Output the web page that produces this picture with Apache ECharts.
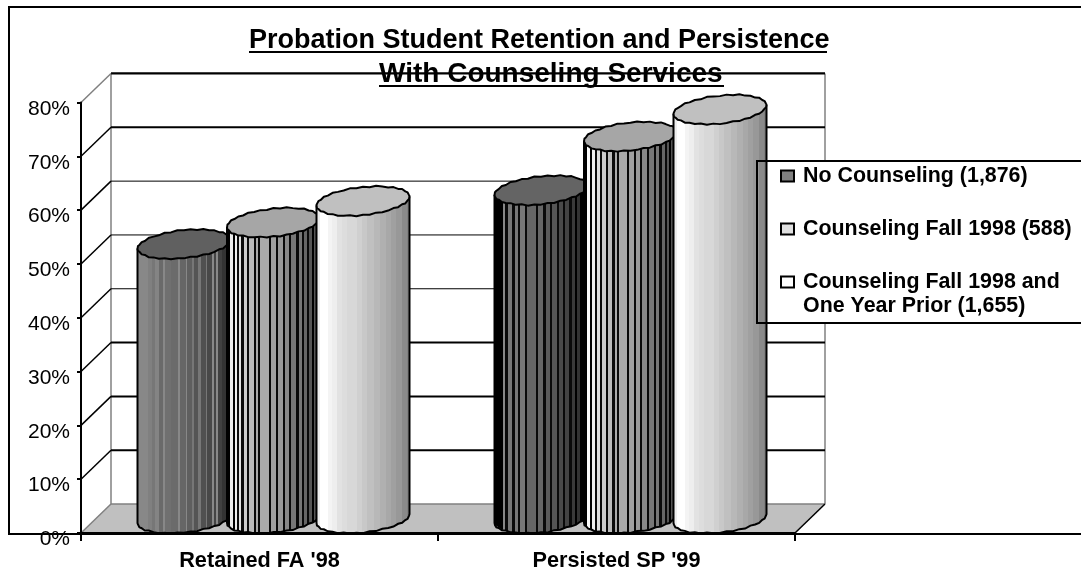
<!DOCTYPE html>
<html>
<head>
<meta charset="utf-8">
<style>html,body{margin:0;padding:0;background:#fff}#c{width:1081px;height:569px}</style>
<script src="https://cdn.jsdelivr.net/npm/echarts@6/dist/echarts.min.js"></script>
</head>
<body>
<div id="c"></div>
<script>
var categories = ["Retained FA '98", "Persisted SP '99"];
var seriesNames = ["No Counseling (1,876)", "Counseling Fall 1998 (588)", "Counseling Fall 1998 and One Year Prior (1,655)"];
var noCounseling = [51, 61];
var counselingFall = [55, 71];
var counselingFallPrior = [59, 76];
var yTicks = [0, 10, 20, 30, 40, 50, 60, 70, 80];
var titleLine1 = "Probation Student Retention and Persistence";
var titleLine2 = "With Counseling Services";

// style only
var gridWidths = {0: 0, 10: 2, 20: 2, 30: 2, 40: 1, 50: 1, 60: 1, 70: 2, 80: 2};
var legendColors = ['#808080', '#e0e0e0', '#ffffff'];
var capColors = [['#606060', '#646464'], ['#a6a6a6', '#a6a6a6'], ['#c0c0c0', '#c0c0c0']];
var whiteBands = [[9,238],[24,255],[13,244],[15,238],[15,226],[15,221],[30,216],[15,208],[15,200],[20,192],[18,184],[17,176],[15,168],[15,160],[17,152],[15,138],[8,128]];
var bands = [
  [
    [[30,136],[10,128],[7,119],[13,132],[10,106],[7,136],[16,112],[20,107],[5,136],[15,102],[4,136],[13,95],[5,119],[13,85],[7,119],[15,80],[3,119],[14,72],[4,136],[6,68],[6,136],[10,64],[14,51],[10,96]],
    [[21,0],[6,136],[6,10],[12,119],[6,10],[8,119],[6,10],[12,119],[6,10],[22,102],[6,10],[12,102],[6,10],[10,90],[6,10],[12,85],[6,10],[10,74],[6,10],[10,68],[6,10],[8,58],[6,0],[8,51],[6,0],[6,42],[6,0]]
  ],
  [
    [[9,0],[6,235],[6,0],[6,238],[6,10],[6,225],[6,10],[10,204],[6,10],[12,187],[6,10],[6,170],[6,10],[24,170],[6,10],[12,160],[6,10],[12,153],[6,10],[12,136],[6,10],[14,119],[6,10],[8,119],[6,10],[8,102],[6,10],[7,85],[6,0],[6,85],[6,0],[5,68]],
    [[9,0],[8,250],[6,0],[6,238],[6,10],[8,221],[6,10],[10,204],[6,10],[12,187],[6,10],[6,170],[6,10],[22,170],[6,10],[12,160],[6,10],[12,153],[6,10],[12,136],[6,10],[14,119],[6,10],[8,119],[6,10],[8,102],[6,10],[7,85],[6,0],[6,85],[5,0],[4,68]]
  ],
  [whiteBands, whiteBands]
];
// small fixed irregularity of the faceted outlines, in pixels
var wobble = [0.4, -0.5, 0.5, -0.2, 0.7, -0.5, 0.2, 0.6, -0.4, 0.5, -0.6, 0.3, -0.3, 0.6, -0.5, 0.4, -0.2, 0.7, -0.5, 0.4, -0.6, 0.2];

var DX = 30, DY = 29;             // depth of the 3D box
var SHIFT = 14;                   // cylinder axis offset into the depth
var SLOT = 89.5, HALF = 46.5;     // cylinder spacing, half width
var CAP_B = 14, CAP_TILT = 4.5;   // cap ellipse shape
var FACETS = 22;

function gray(v) { return 'rgb(' + v + ',' + v + ',' + v + ')'; }

function renderWalls(params, api) {
  var v = api.value(1);
  var band = api.size([1, 0])[0];
  var p = api.coord([0, v]);
  var x0 = p[0] - band / 2, x1 = x0 + band * 2, y = p[1];
  var kids = [];
  function line(a, b, c, d, color, w) {
    kids.push({type: 'line', shape: {x1: a, y1: b, x2: c, y2: d}, style: {stroke: color, lineWidth: w}, silent: true});
  }
  if (v === 0) {
    kids.push({type: 'polygon', shape: {points: [[x0, y], [x0 + DX, y - DY], [x1 + DX, y - DY], [x1, y]]}, style: {fill: '#c0c0c0'}, silent: true});
    var top = api.coord([0, 80])[1];
    line(x0 + DX, y - DY, x1 + DX, y - DY, '#808080', 1.5);
    line(x0 + DX, top - DY, x0 + DX, y - DY, '#808080', 1.5);
    line(x1 + DX, top - DY, x1 + DX, y - DY, '#808080', 1.5);
    line(x0 + DX, top - DY - 1, x1 + DX, top - DY - 1, '#808080', 1);
    line(x1, y, x1 + DX, y - DY, '#000', 1.5);
    line(x0, y, x0 + DX, y - DY, '#808080', 1.5);
  } else {
    line(x0 + DX, y - DY, x1 + DX, y - DY, '#000', gridWidths[v]);
    line(x0, y, x0 + DX, y - DY, v === 80 ? '#808080' : '#000', 1.5);
  }
  return {type: 'group', children: kids};
}

function makeCylinder(si) {
  return function (params, api) {
    var c = api.value(0), v = api.value(1);
    var top = api.coord([c, v]), bot = api.coord([c, 0]);
    var cx = top[0] + SHIFT + (si - 1) * SLOT;
    var cyT = top[1] - DY / 2, cyB = bot[1] - DY / 2;
    var a = HALF;
    function front(x, cy) {
      var u = Math.max(-1, Math.min(1, (x - cx) / a));
      return cy - CAP_TILT * u + CAP_B * Math.sqrt(1 - u * u);
    }
    var kids = [];
    var list = bands[si][c], sum = 0;
    list.forEach(function (b) { sum += b[0]; });
    var pos = cx - a;
    list.forEach(function (b) {
      var w = b[0] / sum * 2 * a;
      var xa = Math.round(pos), xb = Math.round(pos + w);
      if (xb > xa) {
        kids.push({type: 'polygon', silent: true,
          shape: {points: [[xa, front(xa, cyT)], [xb, front(xb, cyT)], [xb, front(xb, cyB)], [xa, front(xa, cyB)]]},
          style: {fill: gray(b[1])}});
      }
      pos += w;
    });
    var outline = [];
    var i, t;
    for (i = 0; i <= FACETS; i++) {
      t = Math.PI * (1 - i / FACETS);
      var ox = cx + a * Math.cos(t);
      var wy = (i === 0 || i === FACETS) ? 0 : wobble[(i + si * 3 + c * 5) % wobble.length];
      outline.push([ox, front(ox, cyB) + wy]);
    }
    var full = [[cx - a, front(cx - a, cyT)]].concat(outline).concat([[cx + a, front(cx + a, cyT)]]);
    kids.push({type: 'polyline', silent: true, shape: {points: full}, style: {stroke: '#000', lineWidth: 2, fill: 'none'}});
    var cap = [];
    for (i = 0; i < 2 * FACETS; i++) {
      t = Math.PI * i / FACETS;
      cap.push([cx + a * Math.cos(t), cyT - CAP_TILT * Math.cos(t) + CAP_B * Math.sin(t) + wobble[(i + si * 7 + c * 4) % wobble.length]]);
    }
    kids.push({type: 'polygon', silent: true, shape: {points: cap}, style: {fill: capColors[si][c], stroke: '#000', lineWidth: 2, lineJoin: 'round'}});
    return {type: 'group', children: kids};
  };
}

function cylinderSeries(si, values) {
  return {
    type: 'custom', name: seriesNames[si], z: 3, clip: false,
    coordinateSystem: 'cartesian2d',
    itemStyle: {color: legendColors[si]},
    encode: {x: 0, y: 1},
    renderItem: makeCylinder(si),
    data: values.map(function (val, i) { return [i, val]; })
  };
}

var titleBase = {fontFamily: 'Liberation Sans', fontWeight: 'bold', color: '#000'};
var option = {
  animation: false,
  backgroundColor: '#fff',
  textStyle: {fontFamily: 'Liberation Sans', color: '#000'},
  title: [
    {text: titleLine1, left: 244, top: 18, z: 7, textStyle: Object.assign({fontSize: 27, lineHeight: 35}, titleBase)},
    {text: titleLine2, left: 374, top: 52, z: 7, textStyle: Object.assign({fontSize: 28, lineHeight: 35}, titleBase)}
  ],
  grid: {left: 81, right: 286, top: 102.5, bottom: 36, containLabel: false, outerBoundsMode: 'none'},
  xAxis: {
    type: 'category', data: categories, z: 6,
    axisLine: {lineStyle: {color: '#000', width: 2}},
    axisTick: {show: true, length: 8, alignWithLabel: false, lineStyle: {color: '#000', width: 2}},
    axisLabel: {fontFamily: 'Liberation Sans', fontWeight: 'bold', fontSize: 21.7, color: '#000', margin: 17, interval: 0},
    splitLine: {show: false}
  },
  yAxis: {
    type: 'value', min: 0, max: 80, interval: 10, z: 6,
    axisLine: {show: true, lineStyle: {color: '#000', width: 2}},
    axisTick: {show: true, length: 4, lineStyle: {color: '#000', width: 2}},
    axisLabel: {formatter: '{value}%', fontFamily: 'Liberation Sans', fontSize: 21, color: '#000', margin: 11, verticalAlign: 'top', lineHeight: 13},
    splitLine: {show: false}
  },
  legend: {
    orient: 'vertical', left: 780, top: 140, z: 8, padding: 0, itemWidth: 13, itemHeight: 11, itemGap: -19,
    selectedMode: false, icon: 'rect', align: 'left',
    itemStyle: {borderColor: '#000', borderWidth: 2},
    data: seriesNames.map(function (n, i) { return {name: n, icon: 'rect', itemStyle: {color: legendColors[i], borderColor: '#000', borderWidth: 2}}; }),
    formatter: function (n) {
      if (n === seriesNames[2]) return '\nCounseling Fall 1998 and\nOne Year Prior (1,655)';
      return '\n' + n + '\n';
    },
    textStyle: {fontFamily: 'Liberation Sans', fontWeight: 'bold', fontSize: 21.4, lineHeight: 24, color: '#000', padding: [0, 0, 0, 4]}
  },
  graphic: [
    {type: 'rect', z: -1, silent: true, shape: {x: 9, y: 7, width: 1200, height: 527}, style: {fill: '#fff', stroke: '#000', lineWidth: 2}},
    {type: 'rect', z: 2, silent: true, shape: {x: 757, y: 161, width: 500, height: 162}, style: {fill: '#fff'}},
    {type: 'rect', z: 4, silent: true, shape: {x: 757, y: 161, width: 500, height: 162}, style: {fill: 'none', stroke: '#000', lineWidth: 2}},
    {type: 'line', z: 7, silent: true, shape: {x1: 249, y1: 52, x2: 827, y2: 52}, style: {stroke: '#000', lineWidth: 2}},
    {type: 'line', z: 7, silent: true, shape: {x1: 379, y1: 86, x2: 724, y2: 86}, style: {stroke: '#000', lineWidth: 2}}
  ],
  series: [
    {
      type: 'custom', name: 'walls', z: 1, clip: false, coordinateSystem: 'cartesian2d', silent: true,
      encode: {x: 0, y: 1}, renderItem: renderWalls,
      data: yTicks.map(function (t) { return [0, t]; })
    },
    cylinderSeries(0, noCounseling),
    cylinderSeries(1, counselingFall),
    cylinderSeries(2, counselingFallPrior)
  ]
};
echarts.init(document.getElementById('c'), null, {renderer: 'canvas'}).setOption(option);
</script>
</body>
</html>
